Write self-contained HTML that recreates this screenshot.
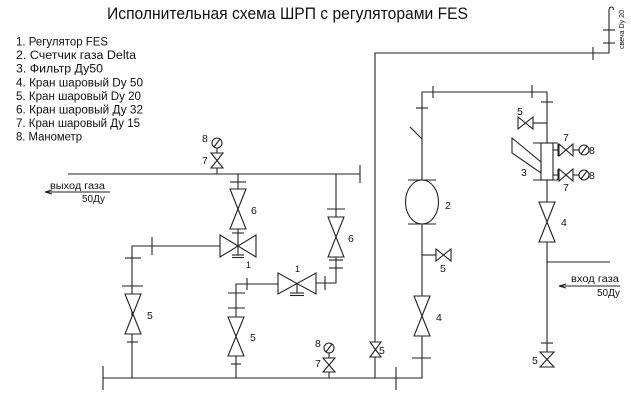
<!DOCTYPE html>
<html><head><meta charset="utf-8"><style>
html,body{margin:0;padding:0;background:#fff;}
svg{display:block;}
text{font-family:"Liberation Sans","DejaVu Sans",sans-serif;fill:#111;}
</style></head><body>
<svg width="631" height="409" viewBox="0 0 631 409" xmlns="http://www.w3.org/2000/svg">
<rect width="631" height="409" fill="#fff"/>
<!-- Title -->
<text x="107" y="19" font-size="17" textLength="361" lengthAdjust="spacingAndGlyphs">Исполнительная схема ШРП с регуляторами FES</text>
<!-- Legend -->
<g font-size="11.5">
<text x="16" y="45.5" textLength="92" lengthAdjust="spacingAndGlyphs">1. Регулятор FES</text>
<text x="16" y="59" textLength="120" lengthAdjust="spacingAndGlyphs">2. Счетчик газа Delta</text>
<text x="16" y="72.7" textLength="87" lengthAdjust="spacingAndGlyphs">3. Фильтр Ду50</text>
<text x="16" y="86.3" textLength="127" lengthAdjust="spacingAndGlyphs">4. Кран шаровый Dy 50</text>
<text x="16" y="100" textLength="125" lengthAdjust="spacingAndGlyphs">5. Кран шаровый Dy 20</text>
<text x="16" y="113.5" textLength="127" lengthAdjust="spacingAndGlyphs">6. Кран шаровый Ду 32</text>
<text x="16" y="127" textLength="124" lengthAdjust="spacingAndGlyphs">7. Кран шаровый Ду 15</text>
<text x="16" y="140.7" textLength="66" lengthAdjust="spacingAndGlyphs">8. Манометр</text>
</g>

<g stroke="#222" stroke-width="1.1" fill="none">
<!-- svecha -->
<polyline points="375,378 375,53 609,53 609,11"/>
<path d="M609 11 Q609 7 611.5 7 Q613.5 7 613.5 10"/>
<line x1="593" y1="47" x2="593" y2="60"/>
<line x1="603" y1="30" x2="615" y2="30"/>
<line x1="603" y1="43" x2="615" y2="43"/>

<!-- bottom line and right loop -->
<polyline points="103,378 422,378 422,92 547,92 547,352"/>
<line x1="103" y1="366" x2="103" y2="390"/>
<line x1="396" y1="367" x2="396" y2="390"/>
<line x1="412" y1="358" x2="431" y2="358"/>
<line x1="433" y1="86" x2="433" y2="98"/>
<line x1="532" y1="85" x2="532" y2="98"/>
<line x1="416" y1="108" x2="428" y2="108"/>
<line x1="410" y1="127" x2="422" y2="139"/>

<!-- counter 2 -->
<ellipse cx="422" cy="202" rx="16.5" ry="22" fill="#fff"/>
<line x1="408" y1="180" x2="436" y2="180"/>
<line x1="408" y1="224" x2="436" y2="224"/>

<!-- valve 5 side of counter -->
<line x1="422" y1="255" x2="436" y2="255"/>
<path d="M436 249 L436 261 L451 249 L451 261 Z" fill="#fff"/>

<!-- valve 4 on x=422 -->
<path d="M414 296 L430 296 L414 336 L430 336 Z" fill="#fff"/>

<!-- right branch x=547 -->
<line x1="541" y1="102" x2="553" y2="102"/>
<line x1="547" y1="123" x2="533" y2="123"/>
<path d="M518 117 L518 129 L533 117 L533 129 Z" fill="#fff"/>
<!-- filter 3 -->
<rect x="541" y="143" width="12" height="37" fill="#fff"/>
<line x1="533" y1="143" x2="558" y2="143"/>
<line x1="533" y1="180" x2="558" y2="180"/>
<polygon points="512,138 541,162 541,173 512,153" fill="#fff"/>
<!-- gauge branches -->
<line x1="553" y1="150" x2="559" y2="150"/>
<line x1="558" y1="144" x2="558" y2="156"/>
<path d="M559 144 L559 156 L573 144 L573 156 Z" fill="#fff"/>
<line x1="573" y1="150" x2="579" y2="150"/>
<circle cx="584" cy="150" r="5"/>
<line x1="581" y1="154" x2="587" y2="146"/>
<line x1="553" y1="175" x2="559" y2="175"/>
<line x1="558" y1="169" x2="558" y2="180"/>
<path d="M559 169 L559 181 L573 169 L573 181 Z" fill="#fff"/>
<line x1="573" y1="175" x2="579" y2="175"/>
<circle cx="584" cy="175" r="5"/>
<line x1="581" y1="179" x2="587" y2="171"/>
<!-- valve 4 on x=547 -->
<path d="M539 202 L555 202 L539 242 L555 242 Z" fill="#fff"/>
<line x1="547" y1="262" x2="610" y2="262"/>
<line x1="541" y1="343" x2="553" y2="343"/>
<path d="M540 352 L554 352 L540 367 L554 367 Z" fill="#fff"/>
<!-- inlet arrow -->
<line x1="559" y1="286" x2="620" y2="286"/>
<path d="M559 286 L566 284 M559 286 L566 288"/>

<!-- valve 5 on x=375 -->
<path d="M370 342 L381 342 L370 357 L381 357 Z" fill="#fff"/>

<!-- outlet line -->
<line x1="68" y1="174" x2="360" y2="174"/>
<line x1="360" y1="165" x2="360" y2="183"/>
<line x1="46" y1="192" x2="110" y2="192"/>
<path d="M45 192 L52 190 M45 192 L52 194"/>

<!-- manometer top -->
<circle cx="217" cy="143" r="5"/>
<line x1="214" y1="147" x2="220" y2="139"/>
<line x1="217" y1="148" x2="217" y2="153"/>
<path d="M211 153 L223 153 L211 168 L223 168 Z" fill="#fff"/>
<line x1="217" y1="168" x2="217" y2="174"/>

<!-- left branch valve 6 + regulator -->
<line x1="238" y1="174" x2="238" y2="246"/>
<line x1="230" y1="182" x2="246" y2="182"/>
<path d="M230 189 L246 189 L230 229 L246 229 Z" fill="#fff"/>
<line x1="232" y1="233" x2="244" y2="233"/>
<path d="M220 235 L220 257 L256 235 L256 257 Z" fill="#fff"/>
<line x1="238" y1="246" x2="238" y2="255"/>
<line x1="232" y1="255" x2="244" y2="255"/>
<line x1="232" y1="257.5" x2="244" y2="257.5"/>
<polyline points="220,246 132,246 132,378"/>
<line x1="152" y1="237" x2="152" y2="255"/>
<line x1="125" y1="258" x2="141" y2="258"/>
<line x1="122" y1="286" x2="143" y2="286"/>
<path d="M125 294 L141 294 L125 334 L141 334 Z" fill="#fff"/>
<line x1="127" y1="342" x2="138" y2="342"/>

<!-- right branch valve 6 + regulator -->
<polyline points="336,174 336,283 316,283"/>
<line x1="327" y1="209" x2="345" y2="209"/>
<path d="M328 217 L344 217 L328 257 L344 257 Z" fill="#fff"/>
<line x1="329" y1="260" x2="343" y2="260"/>
<line x1="329" y1="268" x2="343" y2="268"/>
<line x1="325" y1="276" x2="325" y2="290"/>
<path d="M278 273 L278 294 L316 273 L316 294 Z" fill="#fff"/>
<line x1="297" y1="284" x2="297" y2="293"/>
<line x1="290" y1="293" x2="304" y2="293"/>
<line x1="290" y1="295.5" x2="304" y2="295.5"/>
<polyline points="278,284 236,284 236,378"/>
<line x1="247" y1="278" x2="247" y2="290"/>
<line x1="228" y1="293" x2="245" y2="293"/>
<line x1="228" y1="308" x2="245" y2="308"/>
<path d="M228 317 L244 317 L228 356 L244 356 Z" fill="#fff"/>
<line x1="231" y1="364" x2="241" y2="364"/>

<!-- manometer bottom -->
<circle cx="329" cy="348" r="5"/>
<line x1="326" y1="352" x2="332" y2="344"/>
<line x1="329" y1="353" x2="329" y2="358"/>
<path d="M323 358 L335 358 L323 372 L335 372 Z" fill="#fff"/>
<line x1="329" y1="372" x2="329" y2="378"/>
</g>

<!-- labels -->
<g font-size="10.5">
<text x="202" y="142">8</text>
<text x="202" y="164">7</text>
<text x="251" y="214">6</text>
<text x="348" y="242">6</text>
<text x="246" y="268" font-size="9">1</text>
<text x="295" y="272" font-size="9">1</text>
<text x="147" y="319">5</text>
<text x="250" y="341">5</text>
<text x="315" y="347">8</text>
<text x="315" y="367">7</text>
<text x="379" y="354">5</text>
<text x="445" y="209">2</text>
<text x="440" y="272">5</text>
<text x="436" y="321">4</text>
<text x="517" y="115">5</text>
<text x="521" y="176">3</text>
<text x="563" y="141">7</text>
<text x="563" y="191">7</text>
<text x="589" y="154">8</text>
<text x="589" y="179">8</text>
<text x="561" y="226">4</text>
<text x="532" y="364">5</text>
</g>
<g font-size="10">
<text x="50" y="189" textLength="55" lengthAdjust="spacingAndGlyphs">выход газа</text>
<text x="82" y="202" textLength="23" lengthAdjust="spacingAndGlyphs">50Ду</text>
<text x="571" y="282" textLength="48" lengthAdjust="spacingAndGlyphs">вход газа</text>
<text x="597" y="296" textLength="23" lengthAdjust="spacingAndGlyphs">50Ду</text>
</g>
<text transform="translate(624,49) rotate(-90)" font-size="7.5" textLength="39" lengthAdjust="spacingAndGlyphs">свеча Dy 20</text>
</svg>
</body></html>
